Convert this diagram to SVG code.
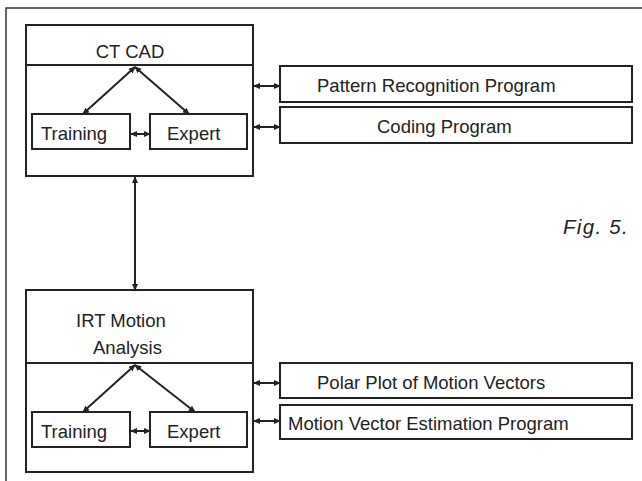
<svg xmlns="http://www.w3.org/2000/svg" width="642" height="481" viewBox="0 0 642 481">
  <style>
    .box { fill: #fff; stroke: #222; stroke-width: 2; }
    .frame { fill: none; stroke: #333; stroke-width: 1.5; }
    .div { stroke: #222; stroke-width: 2; }
    .conn { fill: none; stroke: #222; stroke-width: 2; marker-start: url(#ah); marker-end: url(#ah); }
    text { font-family: "Liberation Sans", Arial, sans-serif; font-size: 18.5px; fill: #222; }
    .fig { font-style: italic; font-size: 20.5px; letter-spacing: 1.3px; }
  </style>
  <defs>
    <marker id="ah" viewBox="0 0 8 8" refX="7" refY="4" markerWidth="7" markerHeight="7" markerUnits="userSpaceOnUse" orient="auto-start-reverse">
      <path d="M0,0.5 L8,4 L0,7.5 Z" fill="#222"/>
    </marker>
  </defs>

  <rect class="frame" x="6" y="8" width="650" height="490"/>

  <g id="ctcad">
    <rect class="box" x="26" y="25" width="227" height="151"/>
    <line class="div" x1="26" y1="65" x2="253" y2="65"/>
    <text x="130" y="58" text-anchor="middle">CT CAD</text>
  </g>
  <g id="ct-training">
    <rect class="box" x="32" y="114" width="98" height="35"/>
    <text x="41" y="140">Training</text>
  </g>
  <g id="ct-expert">
    <rect class="box" x="150" y="114" width="97" height="35"/>
    <text x="167" y="140">Expert</text>
  </g>
  <g id="pattern">
    <rect class="box" x="280" y="66" width="352" height="36"/>
    <text x="317" y="92">Pattern Recognition Program</text>
  </g>
  <g id="coding">
    <rect class="box" x="280" y="107" width="352" height="36"/>
    <text x="377" y="133">Coding Program</text>
  </g>

  <g id="irt">
    <rect class="box" x="26" y="290" width="227" height="182"/>
    <line class="div" x1="26" y1="363" x2="253" y2="363"/>
    <text x="76" y="327">IRT Motion</text>
    <text x="93" y="354">Analysis</text>
  </g>
  <g id="irt-training">
    <rect class="box" x="32" y="412" width="98" height="35"/>
    <text x="41" y="438">Training</text>
  </g>
  <g id="irt-expert">
    <rect class="box" x="150" y="412" width="97" height="35"/>
    <text x="167" y="438">Expert</text>
  </g>
  <g id="polar">
    <rect class="box" x="280" y="363" width="352" height="35"/>
    <text x="317" y="389">Polar Plot of Motion Vectors</text>
  </g>
  <g id="mvep">
    <rect class="box" x="280" y="405" width="352" height="34"/>
    <text x="288" y="430">Motion Vector Estimation Program</text>
  </g>

  <g id="connectors">
    <path class="conn" d="M135,67 L83,114"/>
    <path class="conn" d="M135,67 L189,114"/>
    <path class="conn" d="M131,134 L150,134"/>
    <path class="conn" d="M254,86 L280,86"/>
    <path class="conn" d="M254,127 L280,127"/>
    <path class="conn" d="M135,177 L135,290"/>
    <path class="conn" d="M135,365 L83,412"/>
    <path class="conn" d="M135,365 L195,412"/>
    <path class="conn" d="M131,431 L150,431"/>
    <path class="conn" d="M254,383 L280,383"/>
    <path class="conn" d="M254,421 L280,421"/>
  </g>

  <text class="fig" x="563" y="234">Fig. 5.</text>
</svg>
